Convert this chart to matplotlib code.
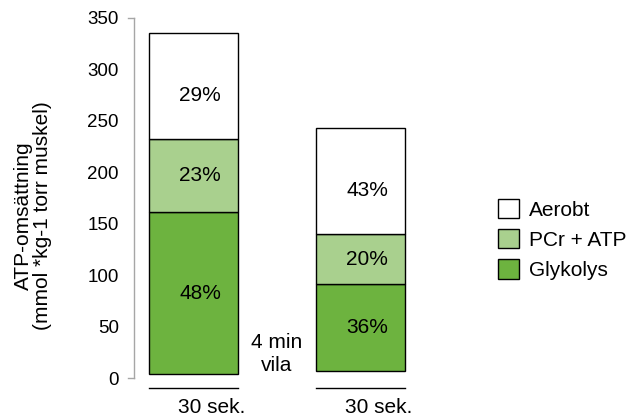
import matplotlib
matplotlib.use("Agg")
import matplotlib.pyplot as plt
from matplotlib.patches import Patch

plt.rcParams["font.family"] = ["Liberation Sans", "DejaVu Sans"]

# ATP turnover per 30 s bout (mmol/kg dry muscle)
bouts = ["30 sek.", "30 sek."]
base = [4, 7]
glykolys = [157, 84]
pcr_atp = [71, 49]
aerobt = [103, 103]
pct_glykolys = ["48%", "36%"]
pct_pcr = ["23%", "20%"]
pct_aerobt = ["29%", "43%"]
series_names = ["Aerobt", "PCr + ATP", "Glykolys"]
yticks = [0, 50, 100, 150, 200, 250, 300, 350]

c_dark = "#6DB33F"
c_light = "#A9D08E"
c_white = "#FFFFFF"
c_axis = "#A6A6A6"

W, H = 632, 419
fig = plt.figure(figsize=(W / 100, H / 100), dpi=100)
ax = fig.add_axes([134 / W, (H - 378) / H, (W - 134) / W, 360 / H])

x = list(range(len(bouts)))
bw = 0.533
bot1 = base
bot2 = [b + g for b, g in zip(base, glykolys)]
bot3 = [b + p for b, p in zip(bot2, pcr_atp)]

ax.bar(x, glykolys, bw, bottom=bot1, color=c_dark, edgecolor="black", linewidth=1.0)
ax.bar(x, pcr_atp, bw, bottom=bot2, color=c_light, edgecolor="black", linewidth=1.0)
ax.bar(x, aerobt, bw, bottom=bot3, color=c_white, edgecolor="black", linewidth=1.0)

for i in x:
    ax.text(i + 0.04, bot1[i] + glykolys[i] / 2, pct_glykolys[i], ha="center", va="center", fontsize=15)
    ax.text(i + 0.04, bot2[i] + pcr_atp[i] / 2, pct_pcr[i], ha="center", va="center", fontsize=15)
    ax.text(i + 0.04, bot3[i] + aerobt[i] / 2 - 9, pct_aerobt[i], ha="center", va="center", fontsize=15)
    # line under each bout
    ax.plot([i - bw / 2, i + bw / 2], [-9.4, -9.4], color="black", linewidth=1.0, clip_on=False)

ax.text(0.5, 23, "4 min\nvila", ha="center", va="center", fontsize=15, linespacing=1.25)

ax.set_xlim(-0.356, 2.626)
ax.set_ylim(0, 350)
ax.set_yticks(yticks)
ax.set_yticklabels([str(t) for t in yticks], fontsize=13.5)
ax.tick_params(axis="y", length=0, pad=11)

# end caps of the value axis bracket
cap = ax.get_yaxis_transform()
for yv in (yticks[0], yticks[-1]):
    ax.plot([-0.012, 0], [yv, yv], color=c_axis, linewidth=1.0, transform=cap, clip_on=False)

ax.set_xticks([i + 0.11 for i in x])
ax.set_xticklabels(bouts, fontsize=15)
ax.tick_params(axis="x", length=0, pad=14.5)

for s in ["top", "right", "bottom"]:
    ax.spines[s].set_visible(False)
ax.spines["left"].set_color(c_axis)
ax.spines["left"].set_linewidth(1.0)

fig.text(33 / W, 1 - 216 / H, "ATP-omsättning\n(mmol *kg-1 torr muskel)", rotation=90,
         ha="center", va="center", fontsize=15, linespacing=1.0, multialignment="center")

handles = [Patch(facecolor=c, edgecolor="black", linewidth=1.0) for c in (c_white, c_light, c_dark)]
fig.legend(handles, series_names, loc="upper left", bbox_to_anchor=(498 / W, 1 - 199 / H),
           frameon=False, fontsize=15, handlelength=1.0, handleheight=1.05,
           handletextpad=0.5, labelspacing=0.45, borderpad=0, borderaxespad=0)

fig.savefig("out.png", dpi=100)
